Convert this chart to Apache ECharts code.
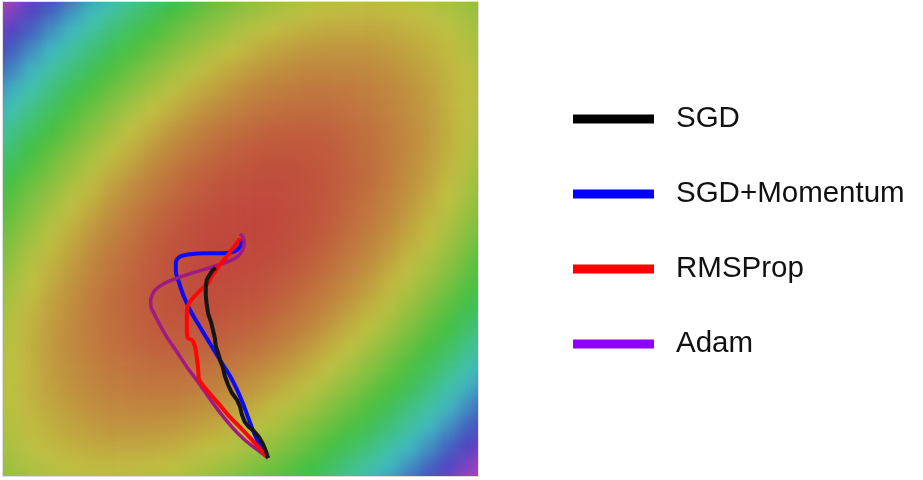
<!DOCTYPE html>
<html>
<head>
<meta charset="utf-8">
<title>优化器轨迹</title>
<script src="https://cdn.jsdelivr.net/npm/echarts/dist/echarts.min.js"></script>
<style>
  html, body { margin: 0; padding: 0; background: #fff; }
  .page { position: relative; width: 923px; height: 480px; }
  .surface { position: absolute; left: 3px; top: 2px; width: 475px; height: 474px; overflow: hidden; outline: 1px solid #dedede; }
  #surface { position: absolute; left: -20px; top: -20px; width: 515px; height: 514px; filter: blur(7px); }
  #chart { position: absolute; left: 0; top: 0; width: 923px; height: 480px; }
</style>
</head>
<body>
<div class="page">
  <div class="surface"><div id="surface"></div></div>
  <div id="chart"></div>
</div>
<script>
// 损失曲面：每格的损失值（按图中颜色读取），从上到下、从左到右，最外一圈在可视区域外
const lossRows = [
  [317, 291, 268, 245, 224, 204, 185, 168, 152, 138, 124, 112, 102, 93, 85, 79, 73, 70, 67, 66, 66, 68, 71, 75, 81, 88],
  [293, 268, 245, 223, 202, 183, 165, 149, 134, 120, 108, 96, 87, 78, 71, 65, 61, 58, 56, 56, 57, 59, 63, 68, 75, 82],
  [270, 246, 224, 202, 183, 164, 147, 131, 117, 104, 92, 82, 73, 65, 59, 54, 50, 48, 47, 47, 49, 52, 56, 62, 69, 78],
  [248, 225, 203, 183, 164, 146, 130, 115, 101, 89, 78, 68, 60, 53, 47, 43, 40, 39, 38, 39, 42, 46, 51, 57, 65, 74],
  [228, 206, 185, 165, 147, 130, 114, 100, 87, 75, 65, 56, 48, 42, 37, 34, 31, 31, 31, 33, 36, 41, 47, 54, 62, 72],
  [209, 187, 167, 148, 130, 114, 99, 86, 73, 63, 53, 45, 38, 32, 28, 26, 24, 24, 25, 28, 32, 37, 44, 52, 61, 72],
  [191, 170, 150, 132, 115, 100, 86, 73, 61, 51, 42, 35, 29, 24, 21, 19, 18, 19, 21, 24, 29, 35, 42, 51, 61, 72],
  [174, 154, 135, 118, 102, 87, 73, 61, 51, 41, 33, 26, 21, 17, 14, 13, 13, 14, 17, 21, 27, 33, 41, 51, 62, 74],
  [159, 140, 121, 105, 89, 75, 62, 51, 41, 32, 25, 19, 14, 11, 9, 9, 9, 11, 15, 20, 26, 33, 42, 52, 64, 77],
  [145, 126, 109, 93, 78, 65, 53, 42, 33, 25, 18, 13, 9, 7, 5, 5, 7, 10, 14, 19, 26, 35, 44, 55, 67, 81],
  [132, 114, 97, 82, 68, 56, 44, 34, 26, 19, 13, 8, 5, 3, 3, 4, 6, 9, 14, 20, 28, 37, 47, 59, 72, 86],
  [120, 103, 87, 73, 59, 48, 37, 28, 20, 14, 8, 5, 2, 1, 1, 3, 6, 10, 16, 23, 31, 41, 52, 64, 78, 93],
  [110, 93, 78, 64, 52, 41, 31, 23, 15, 10, 5, 2, 1, 0, 1, 4, 7, 12, 19, 26, 35, 46, 57, 71, 85, 101],
  [101, 85, 71, 57, 46, 35, 26, 19, 12, 7, 4, 1, 0, 1, 2, 5, 10, 15, 23, 31, 41, 52, 64, 78, 93, 110],
  [93, 78, 64, 52, 41, 31, 23, 16, 10, 6, 3, 1, 1, 2, 5, 8, 14, 20, 28, 37, 48, 59, 73, 87, 103, 120],
  [86, 72, 59, 47, 37, 28, 20, 14, 9, 6, 4, 3, 3, 5, 8, 13, 19, 26, 34, 44, 56, 68, 82, 97, 114, 132],
  [81, 67, 55, 44, 35, 26, 19, 14, 10, 7, 5, 5, 7, 9, 13, 18, 25, 33, 42, 53, 65, 78, 93, 109, 126, 145],
  [77, 64, 52, 42, 33, 26, 20, 15, 11, 9, 9, 9, 11, 14, 19, 25, 32, 41, 51, 62, 75, 89, 105, 121, 140, 159],
  [74, 62, 51, 41, 33, 27, 21, 17, 14, 13, 13, 14, 17, 21, 26, 33, 41, 51, 61, 73, 87, 102, 118, 135, 154, 174],
  [72, 61, 51, 42, 35, 29, 24, 21, 19, 18, 19, 21, 24, 29, 35, 42, 51, 61, 73, 86, 100, 115, 132, 150, 170, 191],
  [72, 61, 52, 44, 37, 32, 28, 25, 24, 24, 26, 28, 32, 38, 45, 53, 63, 73, 86, 99, 114, 130, 148, 167, 187, 209],
  [72, 62, 54, 47, 41, 36, 33, 31, 31, 31, 34, 37, 42, 48, 56, 65, 75, 87, 100, 114, 130, 147, 165, 185, 206, 228],
  [74, 65, 57, 51, 46, 42, 39, 38, 39, 40, 43, 47, 53, 60, 68, 78, 89, 101, 115, 130, 146, 164, 183, 203, 225, 248],
  [78, 69, 62, 56, 52, 49, 47, 47, 48, 50, 54, 59, 65, 73, 82, 92, 104, 117, 131, 147, 164, 183, 202, 224, 246, 270],
  [82, 75, 68, 63, 59, 57, 56, 56, 58, 61, 65, 71, 78, 87, 96, 108, 120, 134, 149, 165, 183, 202, 223, 245, 268, 293],
  [88, 81, 75, 71, 68, 66, 66, 67, 70, 73, 79, 85, 93, 102, 112, 124, 138, 152, 168, 185, 204, 224, 245, 268, 291, 317]
]

const methods = ['SGD', 'SGD+Momentum', 'RMSProp', 'Adam']
const lineColors = ['#161616', '#0c0cf2', '#ff0606', '#9e1a84']
const legendColors = ['#000000', '#0000ff', '#ff0000', '#8f00ff']

// 轨迹 [x, y]，坐标 0-100
const sgdPath = [
  [55.8, 3.8], [55.4, 5.1], [54.7, 6.8], [53.9, 8.2], [52.8, 9.5], [51.8, 10.3], [50.9, 11.4],
  [50.3, 12.9], [49.9, 14.6], [49.3, 16.0], [48.2, 17.5], [47.4, 19.2], [46.7, 21.1], [46.3, 22.8],
  [45.7, 24.5], [45.3, 25.9], [44.8, 27.4], [44.6, 29.1], [44.2, 30.8], [43.8, 32.5], [43.2, 34.2],
  [42.9, 36.1], [42.7, 38.0], [42.7, 39.9], [42.9, 41.4], [43.6, 42.6], [44.2, 43.5], [44.8, 43.9]
]
const momentumPath = [
  [55.8, 3.8], [55.0, 5.1], [53.7, 7.2], [52.6, 9.7], [51.8, 11.8], [50.7, 14.8], [49.5, 17.7],
  [47.8, 21.1], [45.9, 24.1], [43.8, 27.6], [41.5, 31.4], [39.6, 34.6], [38.1, 37.8], [37.1, 40.7],
  [36.4, 43.2], [36.4, 45.1], [37.3, 46.3], [39.4, 46.8], [42.5, 47.0], [45.7, 47.0], [48.2, 47.2],
  [49.5, 47.9], [50.1, 48.9], [50.1, 50.0]
]
const rmspropPath = [
  [55.8, 3.8], [54.3, 5.5], [52.6, 7.4], [50.5, 9.7], [47.8, 12.4], [45.1, 15.6], [42.7, 18.4],
  [41.3, 20.3], [41.1, 22.4], [40.8, 24.9], [40.4, 27.4], [39.8, 28.7], [38.9, 29.1], [38.7, 30.8],
  [38.7, 33.3], [38.7, 35.0], [39.2, 36.5], [40.4, 38.0], [42.1, 39.7], [43.2, 40.7], [44.0, 42.2],
  [45.3, 44.1], [46.7, 45.8], [48.0, 47.5], [49.1, 48.9], [49.9, 50.2]
]
const adamPath = [
  [55.8, 3.8], [53.3, 5.7], [50.9, 7.6], [48.4, 10.1], [45.9, 13.1], [43.4, 16.5], [41.1, 19.8],
  [38.7, 23.0], [36.6, 26.2], [34.5, 29.3], [32.8, 32.3], [31.7, 34.5], [31.1, 35.9], [31.1, 37.1],
  [31.4, 38.2], [32.0, 39.2], [33.1, 40.1], [34.3, 40.8], [36.8, 41.8], [40.4, 43.0], [44.0, 44.1],
  [47.4, 45.3], [49.5, 46.4], [50.5, 47.9], [50.8, 49.4], [50.5, 50.4], [49.9, 51.1]
]
const paths = [sgdPath, momentumPath, rmspropPath, adamPath]

// 背景曲面（单独一层，做模糊处理）
const surfaceChart = echarts.init(document.getElementById('surface'))
const heatData = []
lossRows.forEach((row, r) => {
  row.forEach((v, c) => heatData.push([c, r, v]))
})
surfaceChart.setOption({
  animation: false,
  grid: { left: 0, right: 0, top: 0, bottom: 0 },
  xAxis: { type: 'category', data: lossRows[0].map((_, i) => i), show: false },
  yAxis: { type: 'category', data: lossRows.map((_, i) => i), inverse: true, show: false },
  visualMap: {
    show: false,
    min: 0,
    max: 300,
    dimension: 2,
    inRange: { color: ['#c0463c', '#c0c040', '#42c040', '#40c0c0', '#4444c0', '#c040c0'] }
  },
  series: [{
    type: 'heatmap',
    data: heatData,
    itemStyle: { borderWidth: 0 }
  }]
})

// 轨迹和图例
const chart = echarts.init(document.getElementById('chart'))
const drawOrder = [1, 3, 2, 0] // 黑色在最上层
chart.setOption({
  animation: false,
  grid: { left: 3, top: 2, width: 475, height: 474 },
  xAxis: { type: 'value', min: 0, max: 100, show: false },
  yAxis: { type: 'value', min: 0, max: 100, show: false },
  legend: {
    orient: 'vertical',
    left: 568,
    top: 99,
    itemWidth: 81,
    itemHeight: 9,
    itemGap: 45,
    selectedMode: false,
    data: methods.map((m, i) => ({ name: m, icon: 'rect', itemStyle: { color: legendColors[i] } })),
    textStyle: {
      fontFamily: 'Liberation Sans',
      fontSize: 29.5,
      lineHeight: 30,
      color: '#111',
      padding: [0, 0, 0, 17]
    }
  },
  series: drawOrder.map(i => ({
    name: methods[i],
    type: 'line',
    data: paths[i],
    showSymbol: false,
    smooth: i === 0 ? false : 0.3,
    lineStyle: { color: lineColors[i], width: i === 3 ? 3.5 : 4 },
    itemStyle: { color: lineColors[i] }
  }))
})
</script>
</body>
</html>
